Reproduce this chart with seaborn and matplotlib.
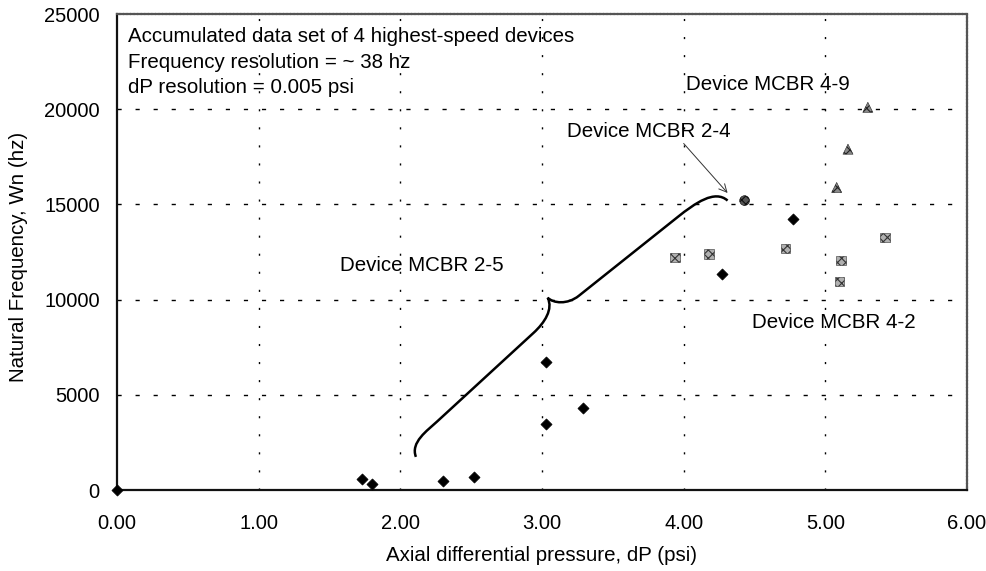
import matplotlib
matplotlib.use("Agg")
import matplotlib.pyplot as plt
from matplotlib.path import Path
from matplotlib.patches import PathPatch
import seaborn as sns
import pandas as pd

# ---- data ----
mcbr25_dp = [0.00, 1.73, 1.80, 2.30, 2.52, 3.03, 3.03, 3.29, 4.27, 4.77]
mcbr25_wn = [0, 580, 320, 470, 680, 6730, 3470, 4310, 11360, 14250]
mcbr24_dp = [4.43]
mcbr24_wn = [15200]
mcbr42_dp = [3.94, 4.18, 4.72, 5.11, 5.10, 5.42]
mcbr42_wn = [12200, 12400, 12680, 12050, 10950, 13250]
mcbr49_dp = [5.08, 5.16, 5.30]
mcbr49_wn = [15890, 17900, 20100]

x_ticks = [0, 1, 2, 3, 4, 5, 6]
y_ticks = [0, 5000, 10000, 15000, 20000, 25000]

df = pd.concat([
    pd.DataFrame({"dP": mcbr25_dp, "Wn": mcbr25_wn, "device": "MCBR 2-5"}),
    pd.DataFrame({"dP": mcbr24_dp, "Wn": mcbr24_wn, "device": "MCBR 2-4"}),
    pd.DataFrame({"dP": mcbr42_dp, "Wn": mcbr42_wn, "device": "MCBR 4-2"}),
    pd.DataFrame({"dP": mcbr49_dp, "Wn": mcbr49_wn, "device": "MCBR 4-9"}),
], ignore_index=True)

sns.set_style("white")
plt.rcParams["font.family"] = ["Liberation Sans", "DejaVu Sans"]
plt.rcParams["hatch.linewidth"] = 0.8
plt.rcParams["text.color"] = "black"
plt.rcParams["axes.labelcolor"] = "black"

FS = 14.8
TFS = 14.5

fig = plt.figure(figsize=(9.87, 5.71), dpi=100)
ax = fig.add_axes([117 / 987, 1 - 490 / 571, 850 / 987, 476 / 571])

styles = {
    "MCBR 2-5": dict(marker="D", s=32, color="black", edgecolor="black", linewidth=0.5),
    "MCBR 2-4": dict(marker="o", s=50, color="#555555", edgecolor="#111111", hatch="xxxx", linewidth=0.4),
    "MCBR 4-2": dict(marker="s", s=46, color="#b0b0b0", edgecolor="#333333", hatch="xxxx", linewidth=0.4),
    "MCBR 4-9": dict(marker="^", s=52, color="#8a8a8a", edgecolor="#222222", hatch="xxxx", linewidth=0.4),
}
for dev, kw in styles.items():
    sub = df[df["device"] == dev]
    sns.scatterplot(data=sub, x="dP", y="Wn", ax=ax, legend=False, zorder=5, clip_on=False, **kw)

ax.set_xlim(0, 6)
ax.set_ylim(0, 25000)
ax.set_xticks(x_ticks)
ax.set_xticklabels([f"{v:.2f}" for v in x_ticks])
ax.set_yticks(y_ticks)
ax.set_yticklabels([str(v) for v in y_ticks])
ax.tick_params(axis="x", direction="out", length=5, width=1, colors="black", labelsize=TFS, pad=12)
ax.tick_params(axis="y", direction="out", length=6.5, width=1, colors="black", labelsize=TFS, pad=6)

ax.set_xlabel("Axial differential pressure, dP (psi)", fontsize=FS, color="black")
ax.set_ylabel("Natural Frequency, Wn (hz)", fontsize=FS, color="black")
ax.xaxis.set_label_coords(0.5, (490 - 546) / 476)
ax.yaxis.set_label_coords((28 - 117) / 850, 0.49)

# grid
for yv in y_ticks[1:-1]:
    ax.axhline(yv, color="black", linewidth=1.0, dashes=(3, 10), zorder=1)
for xv in x_ticks[1:-1]:
    ax.axvline(xv, color="black", linewidth=1.0, dashes=(1.5, 11.5), zorder=1)

# spines
for side in ["left", "bottom"]:
    ax.spines[side].set_color("#111111")
    ax.spines[side].set_linewidth(1.6)
for side in ["top", "right"]:
    ax.spines[side].set_color("#555555")
    ax.spines[side].set_linewidth(1.6)
    ax.spines[side].set_linestyle((0, (1, 0.6)))

# brace annotation (smooth curly bracket)
verts = [
    (2.11, 1740),
    (2.07, 2500), (2.19, 3121), (2.26, 3600),
    (2.94, 8250),
    (3.02, 8797), (3.08, 9500), (3.04, 10100),
    (3.08, 9800), (3.18, 9726), (3.26, 10200),
    (3.96, 14350),
    (4.08, 15060), (4.22, 15800), (4.31, 15200),
]
codes = [Path.MOVETO,
         Path.CURVE4, Path.CURVE4, Path.CURVE4,
         Path.LINETO,
         Path.CURVE4, Path.CURVE4, Path.CURVE4,
         Path.CURVE4, Path.CURVE4, Path.CURVE4,
         Path.LINETO,
         Path.CURVE4, Path.CURVE4, Path.CURVE4]
ax.add_patch(PathPatch(Path(verts, codes), facecolor="none", edgecolor="black", linewidth=1.8, zorder=4))

# texts
ax.text(0.077, 23800, "Accumulated data set of 4 highest-speed devices", fontsize=FS, va="center")
ax.text(0.077, 22450, "Frequency resolution = ~ 38 hz", fontsize=FS, va="center")
ax.text(0.077, 21150, "dP resolution = 0.005 psi", fontsize=FS, va="center")
ax.text(4.595, 21300, "Device MCBR 4-9", fontsize=FS, ha="center", va="center")
ax.text(3.18, 18850, "Device MCBR 2-4", fontsize=FS, ha="left", va="center")
ax.text(1.575, 11800, "Device MCBR 2-5", fontsize=FS, ha="left", va="center")
ax.text(4.48, 8800, "Device MCBR 4-2", fontsize=FS, ha="left", va="center")
ax.annotate("", xy=(4.31, 15600), xytext=(4.00, 18200),
            arrowprops=dict(arrowstyle="->", color="#333333", linewidth=0.7,
                            mutation_scale=14, shrinkA=0, shrinkB=0))

fig.savefig("out.png", dpi=100)
